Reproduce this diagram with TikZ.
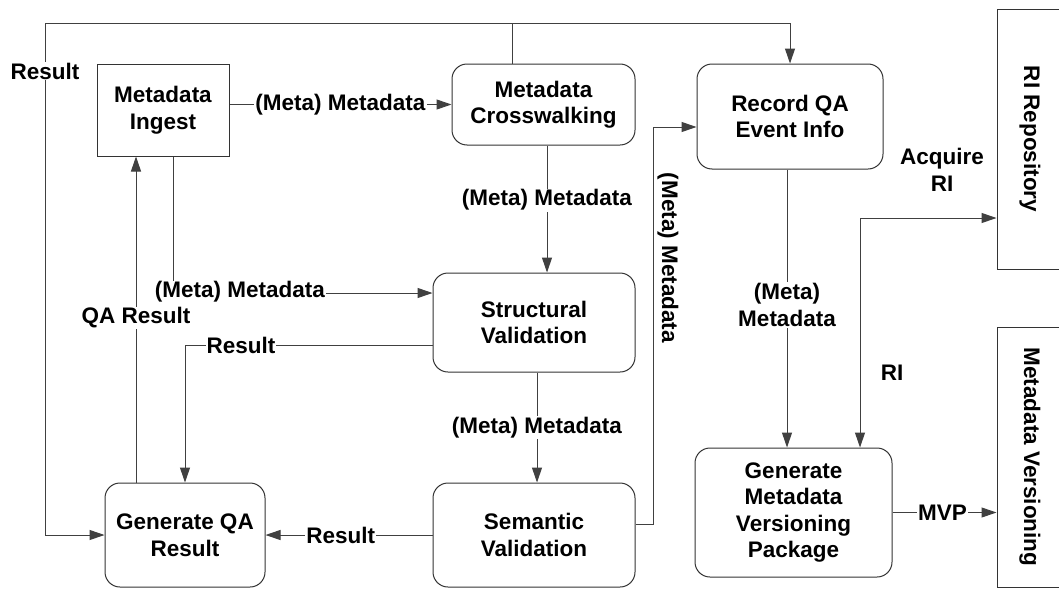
\documentclass[tikz,border=0pt]{standalone}
\usepackage{fontspec}
\setmainfont{Liberation Sans}
\usetikzlibrary{arrows.meta}
\begin{document}
\begin{tikzpicture}[x=1pt,y=-1pt,
  every node/.style={font=\fontsize{22.5}{26.5}\selectfont\bfseries},
  box/.style={draw=black!80,line width=1pt,align=center,inner sep=2pt},
  rbox/.style={box,rounded corners=15pt},
  store/.style={draw=black!80,line width=1pt,anchor=center},
  flow/.style={draw=black!75,line width=1pt,-{Triangle[length=15pt,width=10pt]}},
  both/.style={draw=black!75,line width=1pt,{Triangle[length=15pt,width=10pt]}-{Triangle[length=15pt,width=10pt]}},
  lbl/.style={fill=white,inner sep=1pt,align=center},
  plain/.style={inner sep=1pt,align=center}]
\useasboundingbox (0,0) rectangle (1059,589);
\fill[white] (0,0) rectangle (1059,589);

% process boxes
\node[box,minimum width=132pt,minimum height=92pt] (ingest) at (163,110) {Metadata\\Ingest};
\node[rbox,minimum width=183pt,minimum height=81pt] (cross) at (543.5,104.5) {Metadata\\Crosswalking};
\node[rbox,minimum width=186pt,minimum height=105pt] (rec) at (790,116.5) {Record QA\\Event Info};
\node[rbox,minimum width=202pt,minimum height=99pt] (struct) at (534,322.5) {Structural\\Validation};
\node[rbox,minimum width=202pt,minimum height=104pt] (sem) at (534,535) {Semantic\\Validation};
\node[rbox,minimum width=160pt,minimum height=104pt] (genqa) at (185,535) {Generate QA\\Result};
\node[rbox,minimum width=197pt,minimum height=129pt] (gmvp) at (793.5,512.5) {Generate\\Metadata\\Versioning\\Package};

% external stores, partly beyond the right edge (text reads top to bottom)
\node[store,minimum width=260pt,minimum height=66pt,rotate=-90] (repo) at (1030,139) {RI Repository};
\node[store,minimum width=260pt,minimum height=66pt,rotate=-90] (mv) at (1030,457) {Metadata Versioning};

\coordinate (tl) at (45,23);

% connectors
\draw[flow] (ingest.east |- cross.west) -- (cross.west)
  node[lbl,midway] (l1) {(Meta) Metadata};
\draw[flow] ([xshift=-31.5pt]cross.north) |- (rec.north |- tl) -- (rec.north);
\draw[flow] ([xshift=-31.5pt]cross.north) |- (tl) |- (genqa.west);
\node[lbl] (l2) at (45,71) {Result};
\draw[flow] ([xshift=3.5pt]cross.south) -- ([xshift=3.5pt]cross.south |- struct.north)
  node[lbl,pos=0.43] (l3) {(Meta) Metadata};
\draw[flow] ([xshift=10pt]ingest.south) |- ([yshift=29.5pt]struct.west);
\node[lbl] (l4) at (240,292) {(Meta) Metadata};
\draw[flow] ([xshift=-49pt]genqa.north) -- ([xshift=-49pt]genqa.north |- ingest.south);
\node[lbl] (l5) at (136,318) {QA Result};
\draw[flow] ([yshift=-22.5pt]struct.west) -| (genqa.north);
\node[lbl] (l6) at (241,345) {Result};
\draw[flow] ([xshift=3pt]struct.south) -- ([xshift=3pt]sem.north)
  node[lbl,midway] (l7) {(Meta) Metadata};
\draw[flow] (sem.west) -- (genqa.east) node[lbl,pos=0.55] (l8) {Result};
\draw[flow] ([yshift=11pt]sem.east) -- ++(18,0) |- ([yshift=-10.5pt]rec.west);
\node[plain,rotate=-90] (l9) at (668,258) {(Meta) Metadata};
\draw[flow] ([xshift=-3pt]rec.south) -- ([xshift=-3pt]rec.south |- gmvp.north);
\node[lbl] (l10) at (787,305) {(Meta)\\Metadata};
\draw[both] ([xshift=66.5pt]gmvp.north) |- ([yshift=-79pt]repo.south);
\node[plain] (l11) at (942,170) {Acquire\\RI};
\node[plain] (l12) at (892,373) {RI};
\draw[flow] (gmvp.east) -- (gmvp.east -| mv.south) node[lbl,pos=0.48] (l13) {MVP};
\end{tikzpicture}
\end{document}
